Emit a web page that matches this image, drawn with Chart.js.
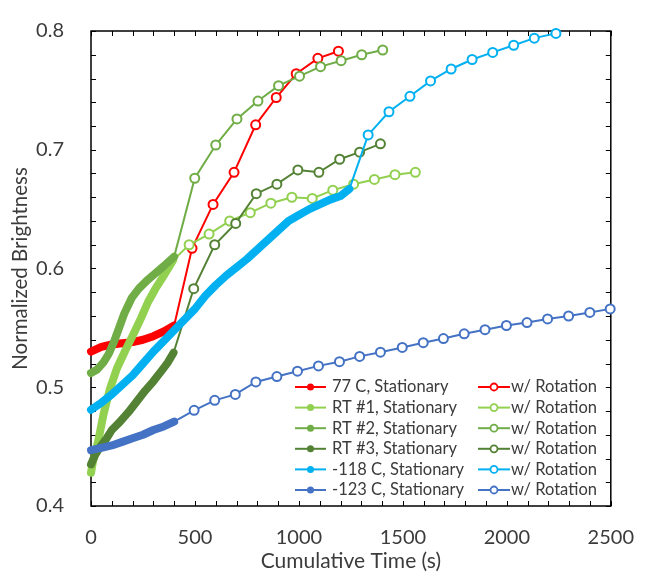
<!DOCTYPE html>
<html>
<head>
<meta charset="utf-8">
<script src="https://cdn.jsdelivr.net/npm/chart.js@4.4.0/dist/chart.umd.min.js"></script>
<style>
    html, body { margin: 0; padding: 0; background: #fff; }
</style>
</head>
<body>
<canvas id="brightness-chart" width="646" height="574"></canvas>
<script>
// series names (legend order)
const seriesNames = ['77 C, Stationary', 'RT #1, Stationary', 'RT #2, Stationary',
    'RT #3, Stationary', '-118 C, Stationary', '-123 C, Stationary'];
const seriesColors = ['#ff0000', '#92d050', '#70ad47', '#548235', '#00b0f0', '#4472c4'];

// 77 C
const stat77Time = [0, 50, 100, 150, 200, 250, 300, 350, 400];
const stat77Value = [0.530, 0.534, 0.536, 0.537, 0.538, 0.540, 0.543, 0.547, 0.552];
const rot77Time = [400, 486, 587, 688, 792, 891, 987, 1091, 1190];
const rot77Value = [0.552, 0.617, 0.654, 0.681, 0.721, 0.744, 0.764, 0.777, 0.783];

// RT #1
const statRT1Time = [0, 10, 35, 60, 90, 125, 165, 205, 240, 275, 310, 350, 395];
const statRT1Value = [0.428, 0.438, 0.455, 0.477, 0.498, 0.516, 0.531, 0.545, 0.558, 0.572, 0.583, 0.594, 0.607];
const rotRT1Time = [395, 472, 568, 667, 766, 865, 966, 1064, 1163, 1263, 1363, 1462, 1560];
const rotRT1Value = [0.607, 0.620, 0.629, 0.640, 0.647, 0.655, 0.660, 0.659, 0.666, 0.671, 0.675, 0.679, 0.681];

// RT #2
const statRT2Time = [0, 30, 60, 85, 110, 135, 160, 195, 230, 270, 310, 350, 400];
const statRT2Value = [0.512, 0.515, 0.521, 0.528, 0.538, 0.550, 0.562, 0.575, 0.583, 0.590, 0.596, 0.602, 0.610];
const rotRT2Time = [400, 499, 600, 702, 803, 902, 1003, 1104, 1203, 1302, 1403];
const rotRT2Value = [0.610, 0.676, 0.704, 0.726, 0.741, 0.754, 0.762, 0.770, 0.775, 0.780, 0.784];

// RT #3
const statRT3Time = [0, 20, 45, 75, 100, 140, 180, 220, 260, 300, 340, 370, 397];
const statRT3Value = [0.435, 0.443, 0.450, 0.457, 0.464, 0.471, 0.479, 0.488, 0.497, 0.505, 0.514, 0.521, 0.529];
const rotRT3Time = [397, 494, 595, 696, 795, 894, 995, 1096, 1196, 1292, 1392];
const rotRT3Value = [0.529, 0.583, 0.620, 0.638, 0.663, 0.671, 0.683, 0.681, 0.692, 0.698, 0.705];

// -118 C
const stat118Time = [0, 50, 100, 150, 200, 250, 300, 350, 400, 450, 500, 550, 600, 650, 700,
    750, 800, 850, 900, 950, 1000, 1050, 1100, 1150, 1200, 1243];
const stat118Value = [0.481, 0.487, 0.494, 0.502, 0.510, 0.520, 0.530, 0.539, 0.548, 0.557, 0.566,
    0.577, 0.586, 0.594, 0.601, 0.608, 0.616, 0.624, 0.632, 0.640, 0.645, 0.650, 0.654, 0.658, 0.661, 0.667];
const rot118Time = [1243, 1333, 1433, 1534, 1633, 1732, 1833, 1932, 2033, 2132, 2236];
const rot118Value = [0.667, 0.7125, 0.732, 0.745, 0.758, 0.768, 0.776, 0.782, 0.788, 0.794, 0.798];

// -123 C
const stat123Time = [0, 50, 100, 150, 200, 250, 300, 350, 400];
const stat123Value = [0.447, 0.449, 0.451, 0.454, 0.457, 0.460, 0.464, 0.467, 0.471];
const rot123Time = [400, 496, 595, 694, 793, 894, 993, 1094, 1195, 1292, 1392, 1497, 1598,
    1695, 1795, 1895, 1998, 2097, 2196, 2297, 2399, 2497];
const rot123Value = [0.471, 0.4806, 0.489, 0.494, 0.5045, 0.509, 0.5135, 0.518, 0.5215, 0.526,
    0.5295, 0.5335, 0.5375, 0.541, 0.545, 0.5485, 0.552, 0.5545, 0.5575, 0.560, 0.563, 0.566];

// axis
const xMin = 0, xMax = 2500, xStep = 500, xMinorStep = 100;
const yMin = 0.4, yMax = 0.8, yStep = 0.1, yMinorStep = 0.02;

const TEXT_COLOR = '#3b3b3b';
const FONT = 'Lato';

const stationarySets = [
    [stat77Time, stat77Value], [statRT1Time, statRT1Value], [statRT2Time, statRT2Value],
    [statRT3Time, statRT3Value], [stat118Time, stat118Value], [stat123Time, stat123Value]
];
const rotationSets = [
    [rot77Time, rot77Value], [rotRT1Time, rotRT1Value], [rotRT2Time, rotRT2Value],
    [rotRT3Time, rotRT3Value], [rot118Time, rot118Value], [rot123Time, rot123Value]
];

function toPoints(times, values) {
    return times.map((t, i) => ({ x: t, y: values[i] }));
}

const datasets = [];
seriesNames.forEach((name, i) => {
    const color = seriesColors[i];
    datasets.push({
        label: name,
        data: toPoints(stationarySets[i][0], stationarySets[i][1]),
        borderColor: color,
        backgroundColor: color,
        borderWidth: 8,
        borderCapStyle: 'round',
        borderJoinStyle: 'round',
        pointRadius: 0,
        clip: false,
        order: 12 - 2 * i
    });
    datasets.push({
        label: 'w/ Rotation',
        data: toPoints(rotationSets[i][0], rotationSets[i][1]),
        borderColor: color,
        backgroundColor: '#ffffff',
        borderWidth: 2,
        pointRadius: ctx => ctx.dataIndex === 0 ? 0 : 4.5,
        pointBorderWidth: 2,
        pointBorderColor: color,
        pointBackgroundColor: '#ffffff',
        clip: false,
        order: 11 - 2 * i
    });
});

// box around plot with inward ticks
const frameTicks = {
    id: 'frameTicks',
    beforeDatasetsDraw(chart) {
        const { ctx, chartArea: a, scales: { x, y } } = chart;
        ctx.save();
        ctx.strokeStyle = '#000';
        ctx.lineWidth = 1.5;
        ctx.strokeRect(a.left, a.top, a.right - a.left, a.bottom - a.top);
        ctx.lineWidth = 1;
        ctx.beginPath();
        for (let t = xMin; t <= xMax; t += xMinorStep) {
            const px = Math.round(x.getPixelForValue(t)) + 0.5;
            ctx.moveTo(px, a.bottom);
            ctx.lineTo(px, a.bottom - 5);
            ctx.moveTo(px, a.top);
            ctx.lineTo(px, a.top + 5);
        }
        const n = Math.round((yMax - yMin) / yMinorStep);
        for (let k = 0; k <= n; k++) {
            const py = Math.round(y.getPixelForValue(yMin + k * yMinorStep)) + 0.5;
            ctx.moveTo(a.left, py);
            ctx.lineTo(a.left + 5, py);
            ctx.moveTo(a.right, py);
            ctx.lineTo(a.right - 5, py);
        }
        ctx.stroke();
        ctx.restore();
    }
};

function drawKey(ctx, x0, x1, y, color, filled) {
    ctx.strokeStyle = color;
    ctx.lineWidth = 2;
    ctx.beginPath();
    ctx.moveTo(x0, y);
    ctx.lineTo(x1, y);
    ctx.stroke();
    ctx.beginPath();
    ctx.arc((x0 + x1) / 2, y, 3.5, 0, Math.PI * 2);
    ctx.fillStyle = filled ? color : '#ffffff';
    ctx.fill();
    if (!filled) {
        ctx.lineWidth = 1.8;
        ctx.stroke();
    }
}

// two-column legend inside the plot
const seriesLegend = {
    id: 'seriesLegend',
    afterDraw(chart) {
        const ctx = chart.ctx;
        ctx.save();
        ctx.font = '16.5px ' + FONT;
        ctx.textBaseline = 'middle';
        seriesNames.forEach((name, i) => {
            const y = 387 + i * 20.6;
            drawKey(ctx, 295, 326, y, seriesColors[i], true);
            ctx.fillStyle = TEXT_COLOR;
            ctx.fillText(name, 332, y);
            drawKey(ctx, 478, 510, y, seriesColors[i], false);
            ctx.fillStyle = TEXT_COLOR;
            ctx.fillText('w/ Rotation', 511, y);
        });
        ctx.restore();
    }
};

new Chart(document.getElementById('brightness-chart'), {
    type: 'line',
    data: { datasets: datasets },
    options: {
        responsive: false,
        animation: false,
        layout: { padding: { left: 6, right: 33, top: 17, bottom: 0 } },
        plugins: {
            legend: { display: false },
            tooltip: { enabled: false }
        },
        scales: {
            x: {
                type: 'linear',
                min: xMin,
                max: xMax,
                grid: { display: false },
                border: { display: false },
                ticks: {
                    stepSize: xStep,
                    padding: 12,
                    color: TEXT_COLOR,
                    font: { family: FONT, size: 20 },
                    maxRotation: 0,
                    callback: v => String(v)
                },
                title: {
                    display: true,
                    text: 'Cumulative Time (s)',
                    color: TEXT_COLOR,
                    font: { family: FONT, size: 21 },
                    padding: { top: 0, bottom: 0 }
                },
                afterFit: scale => { scale.height = 68; }
            },
            y: {
                type: 'linear',
                min: yMin,
                max: yMax,
                grid: { display: false },
                border: { display: false },
                ticks: {
                    stepSize: yStep,
                    padding: 19,
                    color: TEXT_COLOR,
                    font: { family: FONT, size: 20 },
                    callback: v => v.toFixed(1)
                },
                title: {
                    display: true,
                    text: 'Normalized Brightness',
                    color: TEXT_COLOR,
                    font: { family: FONT, size: 20.5 },
                    padding: { top: 2, bottom: 0 }
                },
                afterFit: scale => { scale.width = 85; }
            }
        }
    },
    plugins: [frameTicks, seriesLegend]
});
</script>
</body>
</html>
